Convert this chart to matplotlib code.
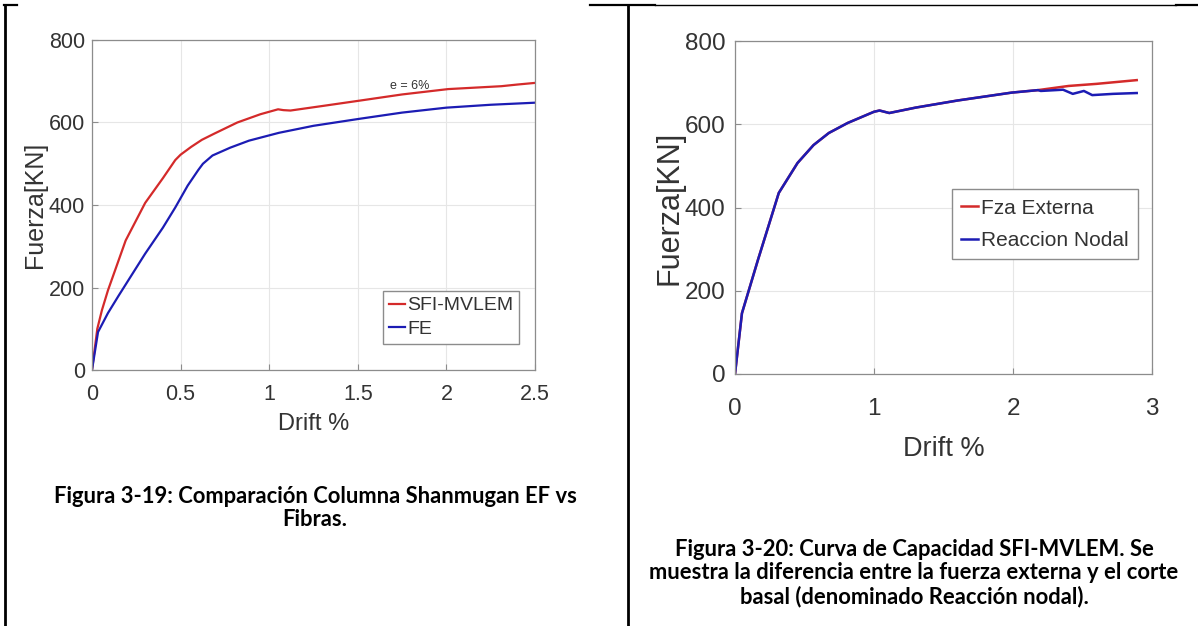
import matplotlib.pyplot as plt
from matplotlib.lines import Line2D

# Figura 3-19 data (left)
drift_sfi = [0, 0.03, 0.056, 0.09, 0.19, 0.3, 0.4, 0.47, 0.5, 0.56, 0.62, 0.69, 0.82,
             0.95, 1.05, 1.08, 1.12, 1.3, 1.51, 1.75, 2.01, 2.31, 2.4, 2.5]
force_sfi = [0, 100, 145, 193, 314, 405, 465, 509, 522, 541, 558, 573, 600,
             620, 632, 630, 629, 640, 653, 668, 681, 688, 692, 696]
drift_fe = [0, 0.034, 0.09, 0.15, 0.3, 0.4, 0.47, 0.54, 0.6, 0.626, 0.68, 0.78, 0.886,
            1.055, 1.25, 1.51, 1.75, 2.0, 2.25, 2.5]
force_fe = [0, 92, 138, 180, 282, 345, 394, 447, 485, 500, 520, 539, 556,
            575, 592, 609, 624, 636, 643, 648]

# Figura 3-20 data (right)
drift_ext = [0, 0.05, 0.165, 0.315, 0.45, 0.565, 0.675, 0.81, 1.0, 1.04, 1.11, 1.3,
             1.6, 1.99, 2.18, 2.4, 2.6, 2.89]
force_ext = [0, 146, 274, 435, 507, 550, 579, 603, 630, 633, 627, 640,
             657, 676, 682, 692, 697, 706]
drift_nod = [0, 0.05, 0.165, 0.315, 0.45, 0.565, 0.675, 0.81, 1.0, 1.04, 1.11, 1.3,
             1.6, 1.99, 2.18, 2.2, 2.36, 2.43, 2.51, 2.57, 2.72, 2.89]
force_nod = [0, 146, 274, 435, 507, 550, 579, 603, 630, 633, 627, 640,
             657, 676, 682, 680, 683, 673, 680, 670, 673, 675]

left_xticks = [0, 0.5, 1, 1.5, 2, 2.5]
left_xlabels = ['0', '0.5', '1', '1.5', '2', '2.5']
right_xticks = [0, 1, 2, 3]
yticks = [0, 200, 400, 600, 800]

caption_left = 'Figura 3-19: Comparación Columna Shanmugan EF vs\nFibras.'
caption_right = ('Figura 3-20: Curva de Capacidad SFI-MVLEM. Se\n'
                 'muestra la diferencia entre la fuerza externa y el corte\n'
                 'basal (denominado Reacción nodal).')

RED = '#d42a2a'
BLUE = '#1c1cb4'
TXT = '#333333'
FONT = ['Liberation Sans', 'DejaVu Sans']

W, H = 1198, 626
fig = plt.figure(figsize=(W / 100, H / 100), dpi=100)


def px_axes(x0, y0, x1, y1):
    return fig.add_axes([x0 / W, 1 - y1 / H, (x1 - x0) / W, (y1 - y0) / H])


def style(ax, tick_size, xpad, ypad):
    ax.grid(True, color='#e6e6e6', linewidth=0.8)
    ax.set_axisbelow(True)
    for s in ax.spines.values():
        s.set_color('#8c8c8c')
        s.set_linewidth(0.9)
    ax.tick_params(direction='in', length=4, color='#8c8c8c', labelcolor=TXT,
                   labelsize=tick_size, top=False, right=False)
    ax.tick_params(axis='x', pad=xpad)
    ax.tick_params(axis='y', pad=ypad)
    for lab in ax.get_xticklabels() + ax.get_yticklabels():
        lab.set_family(FONT)


# left panel
ax1 = px_axes(92, 40, 535, 370)
ax1.plot(drift_sfi, force_sfi, color=RED, lw=1.6, label='SFI-MVLEM')
ax1.plot(drift_fe, force_fe, color=BLUE, lw=1.6, label='FE')
ax1.set_xlim(0, 2.5)
ax1.set_ylim(0, 800)
ax1.set_xticks(left_xticks)
ax1.set_xticklabels(left_xlabels)
ax1.set_yticks(yticks)
style(ax1, 15.5, 10, 5)
ax1.set_xlabel('Drift %', fontsize=17, family=FONT, color=TXT, labelpad=6)
ax1.set_ylabel('Fuerza[KN]', fontsize=18, family=FONT, color=TXT, labelpad=1)
ax1.text(1.79, 689, 'e = 6%', fontsize=9, family=FONT, color=TXT, ha='center', va='center')
leg1 = ax1.legend(loc='lower right', bbox_to_anchor=(0.965, 0.08),
                  prop={'family': FONT, 'size': 14}, handlelength=0.8, handletextpad=0.15,
                  borderpad=0.3, labelspacing=0.3, fancybox=False, framealpha=1,
                  edgecolor='#8c8c8c', borderaxespad=0)
for t in leg1.get_texts():
    t.set_color(TXT)

# right panel
ax2 = px_axes(735, 41, 1152, 374)
ax2.plot(drift_ext, force_ext, color=RED, lw=1.8, label='Fza Externa')
ax2.plot(drift_nod, force_nod, color=BLUE, lw=1.8, label='Reaccion Nodal')
ax2.set_xlim(0, 3)
ax2.set_ylim(0, 800)
ax2.set_xticks(right_xticks)
ax2.set_yticks(yticks)
style(ax2, 17.5, 17, 7)
ax2.set_xlabel('Drift %', fontsize=19.5, family=FONT, color=TXT, labelpad=12)
ax2.set_ylabel('Fuerza[KN]', fontsize=22, family=FONT, color=TXT, labelpad=0)
leg2 = ax2.legend(loc='upper right', bbox_to_anchor=(0.967, 0.555),
                  prop={'family': FONT, 'size': 15}, handlelength=0.8, handletextpad=0.15,
                  borderpad=0.45, labelspacing=0.65, fancybox=False, framealpha=1,
                  edgecolor='#8c8c8c', borderaxespad=0)
for t in leg2.get_texts():
    t.set_color(TXT)

# captions
fig.text(315 / W, 1 - 508 / H, caption_left, ha='center', va='center', fontsize=15.8,
         family=['Lato', 'DejaVu Sans'], weight='bold', linespacing=1.12)
fig.text(914 / W, 1 - 573 / H, caption_right, ha='center', va='center', fontsize=15.8,
         family=['Lato', 'DejaVu Sans'], weight='bold', linespacing=1.12)


# table borders
def seg(x0, y0, x1, y1, lw):
    fig.add_artist(Line2D([x0 / W, x1 / W], [1 - y0 / H, 1 - y1 / H], color='black',
                          lw=lw, transform=fig.transFigure))


seg(5, 5, 5, 626, 2.0)
seg(628, 5, 628, 626, 2.0)
seg(4, 5, 17, 5, 1.6)
seg(590, 5, 655, 5, 1.6)
seg(655, 5, 1176, 5, 1.0)
seg(1176, 5, 1198, 5, 1.6)

fig.savefig('out.png', dpi=100)
